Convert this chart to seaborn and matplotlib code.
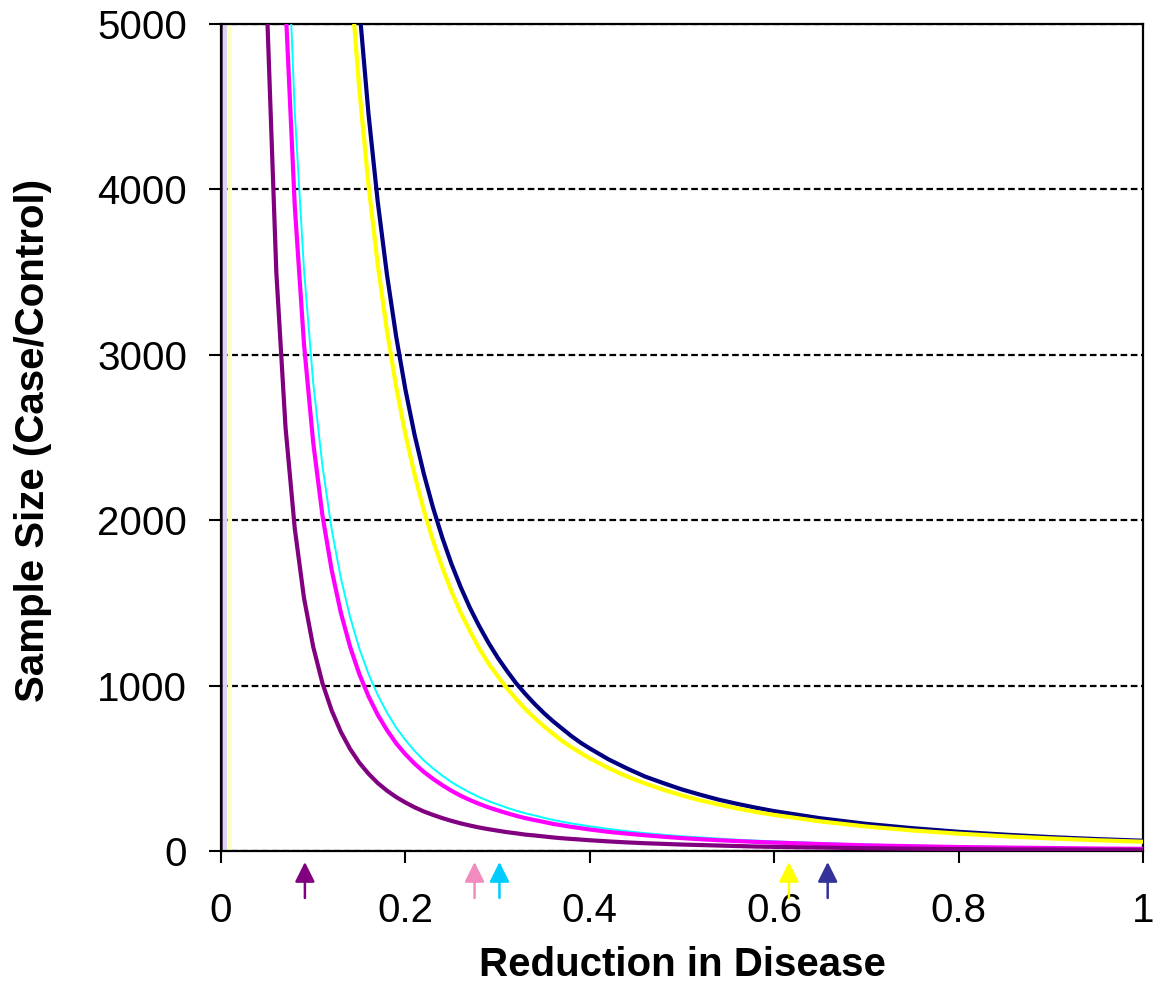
import matplotlib
matplotlib.use('Agg')
import matplotlib.pyplot as plt
import numpy as np
import seaborn as sns

# reduction in disease (x) and sample size per curve
reduction = [0.04, 0.05, 0.06, 0.07, 0.08, 0.09, 0.10, 0.11, 0.12, 0.13, 0.14, 0.15,
             0.16, 0.17, 0.18, 0.19, 0.20, 0.21, 0.22, 0.23, 0.24, 0.25, 0.26, 0.27,
             0.28, 0.29, 0.30, 0.31, 0.32, 0.33, 0.34, 0.35, 0.36, 0.37, 0.38, 0.39,
             0.40, 0.42, 0.44, 0.46, 0.48, 0.50, 0.52, 0.54, 0.56, 0.58, 0.60,
             0.65, 0.70, 0.75, 0.80, 0.85, 0.90, 0.95, 1.00]
n = None
size_navy = [n, n, n, n, n, n, n, n, 8100, 6860, 5885, 5100, 4455, 3925, 3485, 3110, 2790,
             2515, 2280, 2075, 1895, 1735, 1595, 1470, 1360, 1260, 1170, 1090, 1015, 950,
             890, 835, 785, 740, 695, 655, 620, 555, 500, 450, 410, 372, 340, 310, 285,
             262, 241, 198, 164, 138, 116, 99, 84, 72, 62]
size_yellow = [n, n, n, n, n, n, n, 8750, 7310, 6200, 5315, 4605, 4025, 3545, 3145, 2805,
               2520, 2275, 2060, 1875, 1715, 1570, 1440, 1330, 1225, 1135, 1058, 985, 920,
               858, 805, 755, 710, 665, 628, 593, 560, 502, 451, 408, 370, 336, 306, 281,
               257, 236, 218, 179, 148, 124, 105, 89, 76, 65, 56]
size_cyan = [n, n, 8030, 5870, 4470, 3515, 2830, 2330, 1945, 1650, 1415, 1225, 1070, 943,
             837, 746, 671, 605, 548, 499, 456, 417, 383, 353, 326, 302, 282, 262, 244, 228,
             215, 201, 188, 177, 167, 158, 149, 134, 120, 108, 98, 89, 82, 75, 68, 63, 58,
             48, 39, 33, 28, 24, 20, 17, 15]
size_magenta = [n, 10140, 7005, 5120, 3900, 3065, 2470, 2030, 1700, 1440, 1235, 1070, 935,
                823, 731, 651, 585, 528, 478, 436, 398, 364, 334, 308, 285, 264, 246, 229,
                213, 199, 187, 176, 164, 155, 146, 138, 130, 116, 105, 95, 86, 78, 71, 65,
                60, 55, 51, 42, 34, 29, 24, 21, 18, 15, 13]
size_purple = [7960, 5070, 3500, 2560, 1950, 1530, 1235, 1015, 850, 720, 617, 534, 467, 411,
               365, 326, 293, 264, 239, 218, 199, 182, 167, 154, 142, 132, 123, 114, 107, 99,
               94, 88, 82, 77, 73, 69, 65, 58, 52, 47, 43, 39, 36, 33, 30, 27, 25, 21, 17,
               14, 12, 10, 9, 7.5, 6.5]

# arrow markers under the x axis
arrow_x = [0.091, 0.275, 0.302, 0.616, 0.658]
arrow_colors = ['#800080', '#F28CBF', '#00CCFF', '#FFFF00', '#333399']

# faint near-vertical traces at the left edge
edge_x = [0.0012, 0.0045, 0.0100]
edge_colors = ['#4B2D5A', '#DDD4F2', '#FFFFC8']

x_ticks = [0, 0.2, 0.4, 0.6, 0.8, 1.0]
x_tick_labels = ['0', '0.2', '0.4', '0.6', '0.8', '1']
y_ticks = [0, 1000, 2000, 3000, 4000, 5000]

sns.set_style('white')
plt.rcParams['font.family'] = ['Liberation Sans', 'DejaVu Sans']

fig = plt.figure(figsize=(11.55, 9.96), dpi=100)
ax = fig.add_axes([221 / 1155, 1 - 851 / 996, 922 / 1155, 827 / 996])

for xe, ce, we in zip(edge_x, edge_colors, [1.3, 3.0, 3.0]):
    ax.axvline(xe, color=ce, lw=we, zorder=1)

x = np.array(reduction, dtype=float)
series = [(size_navy, '#000080', 3.0),
          (size_yellow, '#FFFF00', 3.0),
          (size_cyan, '#00FFFF', 1.4),
          (size_magenta, '#FF00FF', 3.0),
          (size_purple, '#800080', 3.0)]
for vals, col, lw in series:
    y = np.array([np.nan if v is None else v for v in vals], dtype=float)
    sns.lineplot(x=x, y=y, color=col, lw=lw, ax=ax, zorder=3, sort=False)

ax.set_xlim(0, 1)
ax.set_ylim(0, 5000)
ax.set_xticks(x_ticks)
ax.set_xticklabels(x_tick_labels)
ax.set_yticks(y_ticks)

ax.yaxis.grid(True, color='black', lw=1.6, linestyle=(0, (3.0, 1.6)), zorder=0)
ax.xaxis.grid(False)
for s in ax.spines.values():
    s.set_color('black')
    s.set_linewidth(1.6)

ax.tick_params(axis='both', which='major', labelsize=29, direction='out',
               length=8.5, width=1.5, color='black', labelcolor='black')
ax.tick_params(axis='x', pad=21)
ax.tick_params(axis='y', pad=16)
ax.tick_params(left=True, bottom=True)

ax.set_xlabel('Reduction in Disease', fontsize=29, fontweight='bold', color='black')
ax.set_ylabel('Sample Size (Case/Control)', fontsize=29, fontweight='bold', color='black')
ax.xaxis.set_label_coords(0.5, -0.138)
ax.xaxis.label.set_va('center')
ax.yaxis.set_label_coords(-0.204, 0.497)
ax.yaxis.label.set_va('center')

trans = ax.get_xaxis_transform()
for xa, ca in zip(arrow_x, arrow_colors):
    ax.annotate('', xy=(xa, -0.0133), xytext=(xa, -0.0568), xycoords=trans,
                textcoords=trans, annotation_clip=False,
                arrowprops=dict(arrowstyle='-|>,head_width=0.55,head_length=1.1',
                                mutation_scale=11, color=ca, lw=1.8,
                                shrinkA=0, shrinkB=0))

fig.savefig('out.png', dpi=100)
